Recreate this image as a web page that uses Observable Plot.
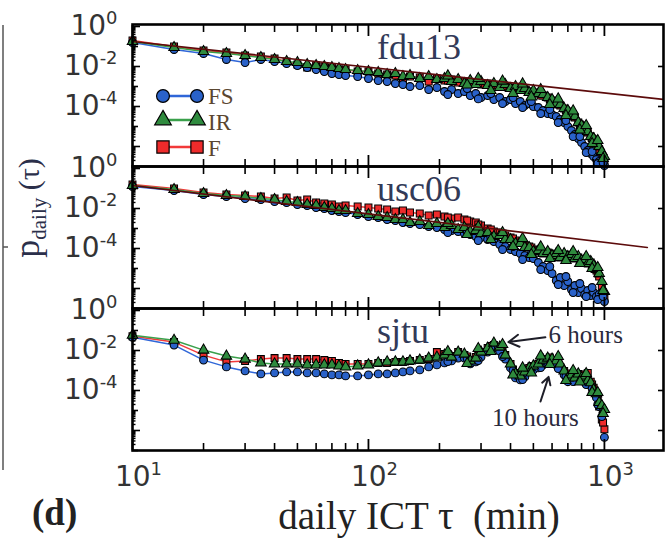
<!DOCTYPE html>
<html>
<head>
<meta charset="utf-8">
<script src="https://cdn.jsdelivr.net/npm/d3@7"></script>
<script src="https://cdn.jsdelivr.net/npm/@observablehq/plot@0.6"></script>
<style>
  html, body { margin: 0; padding: 0; background: #fff; }
  #chart { position: relative; width: 665px; height: 542px; overflow: hidden; }
  #chart svg { position: absolute; left: 0; top: 0; }
</style>
</head>
<body>
<div id="chart"></div>
<script>
// Daily inter-contact time τ (minutes), shared by every series
const tauMin = [10,15,20,25,30,35,40,45,50,55,60,65,70,75,80,90,100,110,120,130,140,150,165,180,195,210,225,240,255,270,285,300,320,340,360,380,400,420,440,460,480,500,525,550,575,600,625,650,675,700,725,750,775,800,825,850,875,900,925,950,975,1000];
// Extra τ bins in the crowded tail, where the points scatter into a band
const tauTail = [217,262,292,330,370,410,450,490,537,587,637,687,737,787,837,887,937,987];

// log10 of p_daily(τ) for each trace and series
const fdu13FS = [-0.8,-1.15,-1.35,-1.65,-1.8,-1.65,-1.75,-1.85,-1.95,-2.05,-2.15,-2.25,-2.35,-2.4,-2.45,-2.5,-2.6,-2.7,-2.75,-2.85,-2.9,-3.0,-2.95,-3.15,-3.05,-3.25,-3.15,-3.35,-3.25,-3.45,-3.35,-3.55,-3.45,-3.65,-3.55,-3.75,-3.65,-3.85,-3.75,-3.95,-3.85,-4.0,-4.05,-4.2,-4.35,-4.4,-4.5,-4.65,-4.8,-5.0,-5.2,-5.4,-5.6,-5.8,-6.0,-6.2,-6.35,-6.5,-6.65,-6.75,-6.85,-6.95];
const fdu13IR = [-0.75,-1.05,-1.25,-1.35,-1.45,-1.55,-1.65,-1.75,-1.8,-1.9,-1.95,-2.0,-2.05,-2.1,-2.15,-2.2,-2.25,-2.3,-2.4,-2.35,-2.5,-2.45,-2.6,-2.5,-2.65,-2.6,-2.75,-2.65,-2.85,-2.7,-2.9,-2.75,-2.95,-2.85,-3.05,-2.9,-3.1,-3.0,-3.2,-3.1,-3.3,-3.2,-3.35,-3.4,-3.55,-3.65,-3.85,-3.9,-4.1,-4.2,-4.45,-4.5,-4.8,-4.95,-5.15,-5.25,-5.5,-5.6,-5.8,-6.0,-6.25,-6.5];
const fdu13F  = [-0.7,-1.0,-1.2,-1.3,-1.45,-1.5,-1.6,-1.75,-1.9,-2.05,-1.95,-2.0,-2.05,-2.15,-2.15,-2.25,-2.25,-2.35,-2.4,-2.45,-2.65,-2.5,-2.55,-2.75,-2.6,-2.7,-2.65,-2.8,-2.75,-2.85,-2.8,-2.9,-2.85,-2.95,-2.95,-3.0,-3.05,-3.1,-3.15,-3.15,-3.25,-3.3,-3.35,-3.45,-3.55,-3.7,-3.85,-3.95,-4.1,-4.25,-4.45,-4.55,-4.8,-4.95,-5.15,-5.3,-5.5,-5.65,-5.85,-6.15,-6.45,-6.8];

const usc06FS = [-0.9,-1.1,-1.3,-1.4,-1.5,-1.55,-1.65,-1.7,-1.8,-1.85,-1.95,-2.0,-2.1,-2.15,-2.2,-2.3,-2.4,-2.45,-2.55,-2.6,-2.7,-2.75,-2.8,-2.9,-2.95,-3.05,-3.1,-3.15,-3.25,-3.3,-3.4,-3.45,-3.55,-3.65,-3.8,-3.9,-4.05,-4.15,-4.25,-4.35,-4.45,-4.5,-4.7,-4.9,-5.1,-5.25,-5.6,-5.45,-5.85,-5.65,-6.05,-5.85,-6.2,-6.0,-6.3,-6.1,-6.35,-6.2,-6.4,-6.3,-6.5,-6.65];
const usc06IR = [-0.85,-1.05,-1.25,-1.35,-1.4,-1.5,-1.55,-1.65,-1.7,-1.8,-1.85,-1.95,-2.0,-2.1,-2.1,-2.25,-2.3,-2.4,-2.45,-2.55,-2.55,-2.7,-2.65,-2.85,-2.75,-2.95,-2.85,-3.05,-2.95,-3.15,-3.1,-3.25,-3.2,-3.4,-3.35,-3.55,-3.55,-3.75,-3.75,-3.95,-3.95,-4.15,-4.1,-4.25,-4.15,-4.35,-4.25,-4.45,-4.25,-4.4,-4.3,-4.5,-4.4,-4.6,-4.55,-4.75,-4.65,-4.85,-5.05,-5.25,-5.65,-6.15];
const usc06F  = [-0.8,-1.0,-1.2,-1.3,-1.35,-1.4,-1.5,-1.45,-1.6,-1.55,-1.7,-1.75,-1.8,-1.9,-1.85,-1.9,-1.95,-2.0,-2.05,-2.15,-2.1,-2.2,-2.25,-2.35,-2.3,-2.4,-2.5,-2.45,-2.55,-2.65,-2.7,-2.85,-3.0,-3.15,-3.2,-3.35,-3.45,-3.6,-3.7,-3.85,-3.9,-4.05,-4.1,-4.25,-4.2,-4.35,-4.3,-4.45,-4.3,-4.45,-4.35,-4.5,-4.45,-4.6,-4.6,-4.75,-4.7,-4.9,-5.1,-5.4,-5.9,-6.5];

const sjtuFS = [-1.34,-1.73,-2.48,-2.82,-3.02,-3.17,-3.12,-3.07,-3.07,-3.12,-3.12,-3.17,-3.22,-3.22,-3.27,-3.27,-3.22,-3.17,-3.17,-3.12,-3.07,-3.02,-2.97,-2.82,-2.72,-2.62,-2.52,-2.38,-2.38,-2.67,-2.57,-2.33,-2.08,-1.88,-2.03,-2.43,-2.87,-3.37,-3.47,-3.32,-3.07,-2.97,-2.87,-2.72,-2.57,-2.62,-2.72,-2.87,-3.22,-3.56,-3.42,-3.51,-3.37,-3.51,-3.42,-3.66,-3.76,-4.11,-4.36,-4.8,-5.3,-6.34];
const sjtuIR = [-1.24,-1.49,-1.98,-2.28,-2.43,-2.62,-2.67,-2.67,-2.67,-2.72,-2.72,-2.72,-2.72,-2.77,-2.82,-2.77,-2.72,-2.62,-2.57,-2.57,-2.57,-2.52,-2.48,-2.38,-2.33,-2.23,-2.33,-2.08,-2.18,-2.52,-2.38,-2.08,-1.88,-1.63,-1.83,-2.23,-2.67,-3.17,-3.27,-3.07,-2.87,-2.77,-2.67,-2.48,-2.38,-2.43,-2.52,-2.67,-3.02,-3.37,-3.22,-3.37,-3.17,-3.37,-3.27,-3.51,-3.61,-3.96,-4.16,-4.6,-4.75,-4.95];
const sjtuF  = [-1.29,-1.58,-2.23,-2.57,-2.52,-2.43,-2.38,-2.38,-2.43,-2.43,-2.43,-2.48,-2.52,-2.62,-2.67,-2.67,-2.67,-2.62,-2.62,-2.57,-2.57,-2.52,-2.48,-2.43,-2.08,-2.18,-2.28,-2.08,-2.23,-2.48,-2.33,-2.08,-1.88,-1.73,-1.88,-2.23,-2.67,-3.12,-3.22,-3.07,-2.87,-2.77,-2.67,-2.52,-2.43,-2.48,-2.57,-2.82,-3.02,-3.32,-3.17,-3.27,-3.17,-3.32,-3.22,-3.12,-3.56,-3.86,-4.16,-4.8,-5.45,-5.94];

// log10 p_daily at the extra tail bins
const fdu13FSTail = [-3.4,-3.1,-3.62,-3.35,-3.85,-3.55,-4.05,-3.75,-4.35,-4.15,-4.8,-4.7,-5.5,-5.5,-6.3,-6.25,-6.85,-6.8];
const fdu13IRTail = [-2.47,-2.92,-2.6,-3.2,-2.73,-3.35,-2.87,-3.52,-3.15,-3.9,-3.62,-4.45,-4.22,-5.17,-4.95,-5.85,-5.7,-6.6];
const fdu13FTail  = [-2.7,-2.78,-2.85,-2.92,-3.0,-3.07,-3.15,-3.27,-3.45,-3.65,-3.9,-4.2,-4.5,-4.9,-5.25,-5.6,-6.0,-6.6];
const usc06FSTail = [-3.2,-3.15,-3.6,-3.45,-4.05,-3.9,-4.55,-4.25,-5.05,-4.9,-5.8,-5.4,-6.2,-5.75,-6.4,-5.95,-6.55,-6.4];
const usc06IRTail = [-2.75,-3.3,-2.92,-3.55,-3.2,-3.9,-3.5,-4.3,-3.92,-4.5,-4.1,-4.6,-4.15,-4.75,-4.4,-5.0,-4.95,-6.1];
const usc06FTail  = [-2.45,-2.6,-2.8,-3.05,-3.25,-3.5,-3.7,-3.95,-4.15,-4.25,-4.35,-4.35,-4.4,-4.55,-4.65,-4.8,-5.25,-6.2];
const sjtuFSTail  = [-2.55,-2.4,-2.5,-1.9,-2.3,-3.0,-3.45,-2.85,-2.85,-2.45,-2.9,-3.3,-3.55,-3.35,-3.7,-3.9,-4.7,-5.0];
const sjtuIRTail  = [-2.05,-2.65,-1.9,-2.05,-1.7,-3.22,-2.87,-3.12,-2.27,-2.7,-2.3,-3.5,-3.0,-3.57,-3.15,-4.1,-4.1,-5.15];
const sjtuFTail   = [-2.2,-2.3,-2.25,-1.78,-2.05,-2.95,-3.15,-2.8,-2.55,-2.35,-2.55,-3.15,-3.25,-3.2,-3.4,-3.7,-4.3,-5.6];

// Power-law fits (end points: τ in minutes, log10 p)
const fdu13FitTau = [10, 1800];
const fdu13Fit = [-0.75, -3.65];
const usc06FitTau = [10, 1520];
const usc06Fit = [-0.85, -3.95];

// Periodic peaks marked in the sjtu trace
const noteLabels = ["6 hours", "10 hours"];
const noteTextTau = [580, 510];
const noteTextLog = [-1.24, -5.35];
const noteTailTau = [562, 536];
const noteTailLog = [-1.34, -4.55];
const noteTipTau = [392, 580];
const noteTipLog = [-1.58, -3.32];

const panelNames = ["fdu13", "usc06", "sjtu"];
const seriesNames = ["FS", "IR", "F"];
const xTicks = [10, 100, 1000];
const yTicks = [1, 1e-2, 1e-4];

// ---- styles ----
const style = {
  FS: {fill: "#2a62c9", line: "#2f66d8", symbol: "circle"},
  IR: {fill: "#2f8b3e", line: "#3aa04b", symbol: "triangle"},
  F:  {fill: "#ee2b2b", line: "#f23a3a", symbol: "square"}
};
const drawOrder = ["F", "FS", "IR"];

// ---- tidy tables ----
const byPanel = {
  fdu13: {FS: [fdu13FS, fdu13FSTail], IR: [fdu13IR, fdu13IRTail], F: [fdu13F, fdu13FTail]},
  usc06: {FS: [usc06FS, usc06FSTail], IR: [usc06IR, usc06IRTail], F: [usc06F, usc06FTail]},
  sjtu:  {FS: [sjtuFS,  sjtuFSTail],  IR: [sjtuIR,  sjtuIRTail],  F: [sjtuF,  sjtuFTail]}
};
const points = [];     // binned values joined by the series line
const tailPoints = []; // extra scatter in the tail
for (const panel of panelNames) {
  for (const s of seriesNames) {
    const [main, tail] = byPanel[panel][s];
    main.forEach((L, i) => points.push({panel, series: s, tau: tauMin[i], p: 10 ** L}));
    tail.forEach((L, i) => tailPoints.push({panel, series: s, tau: tauTail[i], p: 10 ** L}));
  }
}
const fits = [
  ...fdu13FitTau.map((t, i) => ({panel: "fdu13", tau: t, p: 10 ** fdu13Fit[i]})),
  ...usc06FitTau.map((t, i) => ({panel: "usc06", tau: t, p: 10 ** usc06Fit[i]}))
];
const notes = noteLabels.map((label, i) => ({
  panel: "sjtu", label,
  tx: noteTextTau[i], ty: 10 ** noteTextLog[i],
  x1: noteTailTau[i], y1: 10 ** noteTailLog[i],
  x2: noteTipTau[i], y2: 10 ** noteTipLog[i]
}));
const titles = panelNames.map(name => ({panel: name, name}));

// ---- tick helpers ----
const pow10 = v => "10^" + Math.round(Math.log10(v));
const blank = () => "";
const evenDecades = [1, 1e-2, 1e-4, 1e-6];
const oddDecades = [1e-1, 1e-3, 1e-5, 1e-7];
const minorY = [];
for (let e = -7; e < 0; e++) for (let k = 2; k <= 9; k++) minorY.push(k * 10 ** e);
const minorX = [];
for (const base of [10, 100]) for (let k = 2; k <= 9; k++) minorX.push(k * base);

const tickFont = "DejaVu Sans";
const serif = "'Liberation Serif', 'Times New Roman', serif";

const dotOptions = s => ({
  x: "tau", y: "p", fy: "panel", symbol: style[s].symbol, r: 3.9,
  fill: style[s].fill, stroke: "#000", strokeWidth: 1.05
});

const plot = Plot.plot({
  width: 665,
  height: 500,
  marginLeft: 132,
  marginRight: 2,
  marginTop: 23,
  marginBottom: 50,
  style: {background: "transparent", overflow: "visible"},
  x: {type: "log", domain: [10, 1780]},
  y: {type: "log", domain: [1e-7, 10 ** 0.1]},
  fy: {domain: panelNames, padding: 0, axis: null, label: null},
  marks: [
    ...drawOrder.map(s => Plot.line(points.filter(d => d.series === s), {
      x: "tau", y: "p", fy: "panel", stroke: style[s].line, strokeWidth: 1.5
    })),
    ...drawOrder.flatMap(s => [
      Plot.dot(points.filter(d => d.series === s), dotOptions(s)),
      Plot.dot(tailPoints.filter(d => d.series === s), dotOptions(s))
    ]),
    Plot.line(fits, {x: "tau", y: "p", fy: "panel", z: "panel", stroke: "#5c0b0b", strokeWidth: 1.7, clip: true}),
    Plot.frame({stroke: "#000", strokeWidth: 2.6}),

    // inward tick marks on all four sides of each panel
    Plot.axisY({ticks: evenDecades, tickSize: 8, dx: 8, tickFormat: blank, label: null, strokeWidth: 1.6}),
    Plot.axisY({ticks: oddDecades, tickSize: 6, dx: 6, tickFormat: blank, label: null, strokeWidth: 1.6}),
    Plot.axisY({ticks: minorY, tickSize: 3.5, dx: 3.5, tickFormat: blank, label: null, strokeWidth: 1.4}),
    Plot.axisY({anchor: "right", ticks: [1e-2, 1e-4, 1e-6], tickSize: 6, dx: -6, tickFormat: blank, label: null, strokeWidth: 1.6}),
    Plot.axisX({anchor: "top", ticks: xTicks, tickSize: 11, dy: 11, tickFormat: blank, label: null, facetAnchor: null, strokeWidth: 1.8}),
    Plot.axisX({anchor: "top", ticks: minorX, tickSize: 7, dy: 7, tickFormat: blank, label: null, facetAnchor: null, strokeWidth: 1.6}),
    Plot.axisX({anchor: "bottom", ticks: xTicks, tickSize: 11, dy: -11, tickFormat: blank, label: null, facetAnchor: null, strokeWidth: 1.8}),
    Plot.axisX({anchor: "bottom", ticks: minorX, tickSize: 7, dy: -7, tickFormat: blank, label: null, facetAnchor: null, strokeWidth: 1.6}),

    // tick labels
    Plot.axisY({ticks: yTicks, tickSize: 0, tickPadding: 15, tickFormat: pow10, label: null,
      fontSize: 28, fontFamily: tickFont, fill: "#333"}),
    Plot.axisX({ticks: xTicks, tickSize: 0, tickPadding: 16, tickFormat: pow10, label: null, dx: 6,
      fontSize: 28, fontFamily: tickFont, fill: "#333"}),

    // panel names
    Plot.text(titles, {fy: "panel", text: "name", frameAnchor: "top", textAnchor: "start", lineAnchor: "bottom",
      dx: -21, dy: 34, fontSize: 36, fontFamily: serif, fill: "#323a58"}),

    // annotations on the sjtu trace
    Plot.arrow(notes, {x1: "x1", y1: "y1", x2: "x2", y2: "y2", fy: "panel", stroke: "#1e1e28", strokeWidth: 2, headLength: 9}),
    Plot.text(notes, {x: "tx", y: "ty", fy: "panel", text: "label", textAnchor: "start",
      fontSize: 25, fontFamily: serif, fill: "#2a2a3c"})
  ]
});

const svgSel = d3.select(plot);
// "10 hours" is centred under its arrow
svgSel.selectAll("text").filter(function() { return this.textContent === "10 hours"; })
  .attr("text-anchor", "middle");
// power-of-ten tick labels: "10" with a raised exponent
svgSel.selectAll("text").filter(function() { return /^10\^-?\d+$/.test(this.textContent); })
  .each(function() {
    const exp = this.textContent.split("^")[1];
    const t = d3.select(this);
    t.text(null);
    t.append("tspan").text("10");
    t.append("tspan").attr("font-size", "0.64em").attr("dy", "-0.62em").text(exp);
  });

const root = document.getElementById("chart");
root.appendChild(plot);

// ---- decorations drawn around the plot ----
const over = d3.select(root).append("svg")
  .attr("width", 665).attr("height", 542)
  .style("pointer-events", "none");

// edge of the neighbouring panel
over.append("line").attr("x1", 3).attr("x2", 3).attr("y1", 25).attr("y2", 470)
  .attr("stroke", "#555").attr("stroke-width", 1.5);
over.append("line").attr("x1", 3).attr("x2", 8).attr("y1", 247).attr("y2", 247)
  .attr("stroke", "#555").attr("stroke-width", 1.5);

// y-axis title: p_daily(τ)
const yTitle = over.append("text")
  .attr("transform", "translate(39,208) rotate(-90)")
  .attr("text-anchor", "middle")
  .attr("font-family", serif)
  .attr("fill", "#2b2f4a");
yTitle.append("tspan").attr("font-size", 36).text("p");
yTitle.append("tspan").attr("font-size", 21).attr("dy", 7).text("daily");
yTitle.append("tspan").attr("font-size", 30).attr("dy", -7).text("\u00A0(\u03C4)");

// x-axis title
over.append("text")
  .attr("x", 419).attr("y", 529)
  .attr("text-anchor", "middle")
  .attr("font-family", serif).attr("font-size", 39)
  .attr("fill", "#222")
  .text("daily ICT \u03C4\u00A0 (min)");

// panel tag
over.append("text")
  .attr("x", 32).attr("y", 525)
  .attr("font-family", serif).attr("font-size", 37).attr("font-weight", "bold")
  .attr("fill", "#222")
  .text("(d)");

// legend inside the top panel
const legendRowY = [96, 120, 147];
const legendTextY = [104, 130, 156];
const symbolSize = {circle: 130, triangle: 120, square: 150};
const symbolType = {circle: d3.symbolCircle, triangle: d3.symbolTriangle, square: d3.symbolSquare};
seriesNames.forEach((s, i) => {
  const y = legendRowY[i];
  const g = over.append("g");
  g.append("line").attr("x1", 163).attr("x2", 197).attr("y1", y).attr("y2", y)
    .attr("stroke", style[s].line).attr("stroke-width", 2.5);
  for (const x of [163, 197]) {
    g.append("path")
      .attr("d", d3.symbol(symbolType[style[s].symbol], symbolSize[style[s].symbol])())
      .attr("transform", `translate(${x},${y})`)
      .attr("fill", style[s].fill).attr("stroke", "#000").attr("stroke-width", 1.2);
  }
  g.append("text").attr("x", 208).attr("y", legendTextY[i])
    .attr("font-family", serif).attr("font-size", 23)
    .attr("fill", "#5a4630")
    .text(s);
});
</script>
</body>
</html>
